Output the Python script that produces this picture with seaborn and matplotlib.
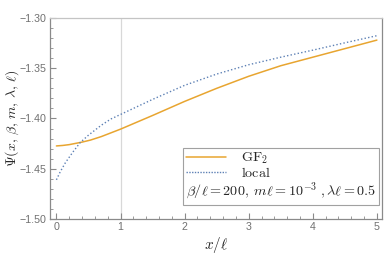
import numpy as np
import pandas as pd
import matplotlib
matplotlib.use("Agg")
import matplotlib.pyplot as plt
import seaborn as sns
from matplotlib.lines import Line2D
from matplotlib.ticker import MultipleLocator, FuncFormatter

# ---- data ----
x_local = [0.0, 0.06, 0.14, 0.25, 0.37, 0.5, 0.7, 0.85, 1.0, 1.25, 1.5, 2.0, 2.5, 3.0, 3.5, 4.0, 4.5, 5.0]
psi_local = [-1.461, -1.453, -1.444, -1.434, -1.424, -1.4166, -1.4067, -1.4005, -1.396, -1.3885,
             -1.381, -1.367, -1.3558, -1.3465, -1.339, -1.332, -1.3247, -1.3176]
x_gf2 = [0.0, 0.1, 0.2, 0.4, 0.53, 0.7, 1.0, 1.5, 2.0, 2.5, 3.0, 3.5, 4.0, 4.5, 5.0]
psi_gf2 = [-1.4273, -1.4268, -1.426, -1.4235, -1.4215, -1.418, -1.4106, -1.397, -1.383,
           -1.370, -1.358, -1.3475, -1.339, -1.3305, -1.322]
x_ticks = [0, 1, 2, 3, 4, 5]
y_ticks = [-1.50, -1.45, -1.40, -1.35, -1.30]
labels = [r'$\mathrm{GF}_2$', r'$\mathrm{local}$',
          r'$\beta/\ell=200,\; m\ell=10^{-3}\;,\lambda\ell=0.5$']

sns.set_style("white")
plt.rcParams['mathtext.fontset'] = 'cm'
plt.rcParams['font.family'] = ['Liberation Sans', 'DejaVu Sans']

C_ORANGE = '#E8A530'
C_BLUE = '#5E81B5'

fig = plt.figure(figsize=(3.9, 2.64), dpi=100)
ax = fig.add_axes([50/390, 1-219/264, 332/390, 201/264])

df_g = pd.DataFrame({'x': x_gf2, 'y': psi_gf2})
df_l = pd.DataFrame({'x': x_local, 'y': psi_local})
sns.lineplot(data=df_g, x='x', y='y', ax=ax, color=C_ORANGE, lw=1.1, sort=True)
sns.lineplot(data=df_l, x='x', y='y', ax=ax, color=C_BLUE, lw=1.0, sort=True,
             linestyle=(0, (1, 1.6)))

ax.axvline(1.0, color='#d8d8d8', lw=0.9, zorder=0)

ax.set_xlim(-0.1, 5.08)
ax.set_ylim(-1.50, -1.30)
ax.set_xticks(x_ticks)
ax.set_yticks(y_ticks)
ax.xaxis.set_minor_locator(MultipleLocator(0.2))
ax.yaxis.set_minor_locator(MultipleLocator(0.01))
ax.yaxis.set_major_formatter(FuncFormatter(lambda v, p: f"{v:.2f}".replace('-', '\u2212')))
ax.xaxis.set_major_formatter(FuncFormatter(lambda v, p: f"{int(round(v))}"))
ax.tick_params(which='both', direction='in', color='#8a8a8a', labelcolor='#707070',
               labelsize=7.7, left=True, bottom=True, top=False, right=False)
ax.tick_params(which='major', length=4, width=0.8, pad=2.5)
ax.tick_params(which='minor', length=2.2, width=0.6)

for s in ['left', 'bottom', 'right']:
    ax.spines[s].set_color('#8a8a8a')
    ax.spines[s].set_linewidth(0.9)
ax.spines['top'].set_color('#c4c4c4')
ax.spines['top'].set_linewidth(0.9)

ax.set_xlabel(r'$x/\ell$', fontsize=11, labelpad=1.5)
ax.set_ylabel(r'$\Psi(x,\,\beta,\,m,\,\lambda,\,\ell)$', fontsize=10)
ax.yaxis.set_label_coords(-0.086, 0.5)

h1 = Line2D([], [], color=C_ORANGE, lw=1.1)
h2 = Line2D([], [], color=C_BLUE, lw=1.0, linestyle=(0, (1, 1.0)))
h3 = Line2D([], [], color='none', lw=0)
leg = ax.legend(handles=[h1, h2, h3], labels=labels, loc='lower right',
                bbox_to_anchor=(0.99, 0.07), frameon=True, fancybox=False,
                edgecolor='#8a8a8a', fontsize=10.2, handlelength=2.8, handletextpad=1.1,
                borderpad=0.2, labelspacing=0.02, borderaxespad=0)
leg.get_frame().set_linewidth(0.8)
# third entry: text only, no handle space
try:
    col = leg._legend_handle_box.get_children()[0]
    item = col.get_children()[2]
    item._children = [item.get_children()[1]]
except Exception:
    pass

fig.savefig('out.png', dpi=100)
